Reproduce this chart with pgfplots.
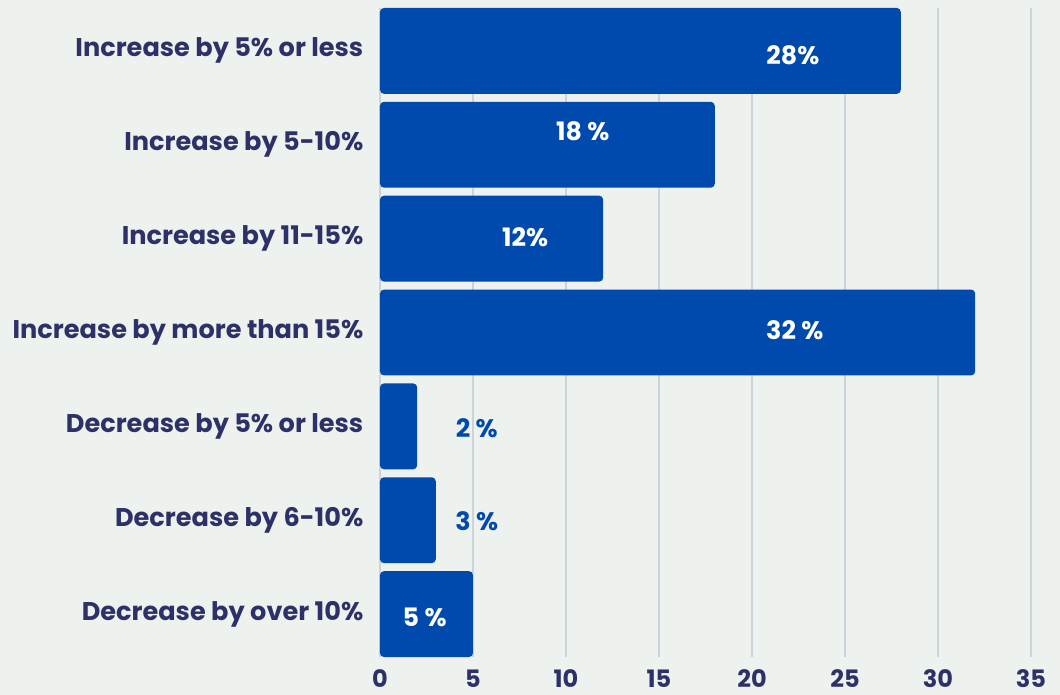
\documentclass[border=0pt]{standalone}
\usepackage{pgfplots}
\pgfplotsset{compat=1.18}
\usepackage{pgfplotstable}
\usepackage{fontspec}
\setmainfont{Poppins}[BoldFont={* Bold}]
\usetikzlibrary{backgrounds}
\definecolor{bgc}{HTML}{EDF2EE}
\definecolor{barc}{HTML}{004AAD}
\definecolor{labc}{HTML}{2E3168}
\definecolor{gridc}{HTML}{CDD3DA}
\pgfplotstableread{
y v
0 28
1 18
2 12
3 32
4 2
5 3
6 5
}\bars
\pgfplotstableread{
x y lab
22.2 0.05 {28\%}
10.9 0.86 {18 \%}
7.8 1.98 {12\%}
22.3 2.98 {32 \%}
2.4 6.04 {5 \%}
}\wlabels
\pgfplotstableread{
x y lab
5.2 4.02 {2 \%}
5.2 5.01 {3 \%}
}\blabels
\begin{document}
\begin{tikzpicture}
\begin{axis}[
  name=ax,
  scale only axis,
  width=488.25pt, height=486.75pt,
  xmin=0, xmax=35,
  ymin=-0.457, ymax=6.457,
  y dir=reverse,
  axis line style={draw=none},
  tick style={draw=none},
  xtick={0,5,...,35},
  xmajorgrids,
  grid style={gridc, line width=0.9pt},
  ytick={0,...,6},
  yticklabels={Increase by 5\% or less, Increase by 5-10\%, Increase by 11-15\%, Increase by more than 15\%, Decrease by 5\% or less, Decrease by 6-10\%, Decrease by over 10\%},
  yticklabel style={font=\fontsize{19.2}{22}\selectfont\bfseries, text=labc, xshift=-9pt},
  xticklabel style={font=\fontsize{18}{21}\selectfont\bfseries, text=labc, yshift=-6pt},
  /pgf/number format/assume math mode=true,
  clip=false,
]
\addplot[xbar, bar width=0.915, fill=barc, draw=none, rounded corners=3pt] table[x=v, y=y] {\bars};
\addplot[only marks, mark=none, point meta=explicit symbolic,
  nodes near coords, nodes near coords align={center},
  every node near coord/.style={font=\fontsize{19}{22}\selectfont\bfseries, text=white, anchor=center}]
  table[x=x, y=y, meta=lab] {\wlabels};
\addplot[only marks, mark=none, point meta=explicit symbolic,
  nodes near coords, nodes near coords align={center},
  every node near coord/.style={font=\fontsize{19}{22}\selectfont\bfseries, text=barc, anchor=center}]
  table[x=x, y=y, meta=lab] {\blabels};
\end{axis}
\begin{scope}[on background layer]
\fill[bgc] ([xshift=-285pt, yshift=-28.5pt]ax.south west) rectangle ++(795pt,521.25pt);
\end{scope}
\end{tikzpicture}
\end{document}
